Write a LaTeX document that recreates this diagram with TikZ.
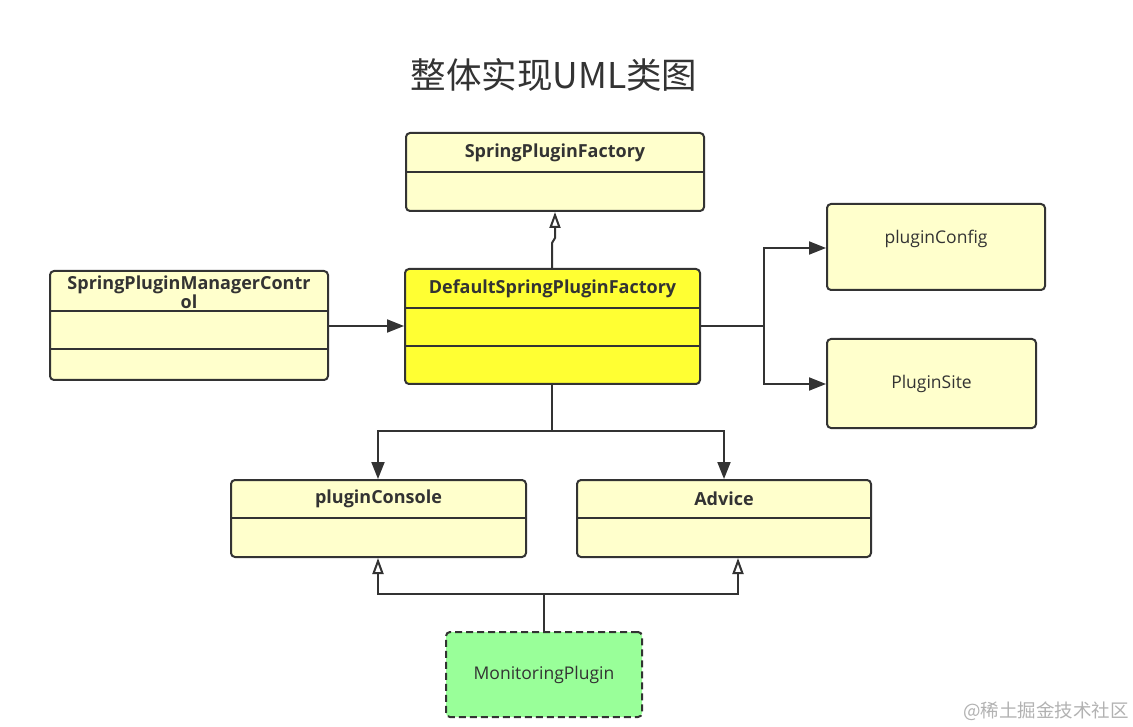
\documentclass[tikz,border=0pt]{standalone}
\usepackage{fontspec}
\setmainfont{Open Sans}
\newfontfamily\cjk{Noto Sans CJK SC}
\usetikzlibrary{arrows.meta,calc}
\definecolor{lightyel}{HTML}{FFFFCC}
\definecolor{stryel}{HTML}{FFFF33}
\definecolor{lgreen}{HTML}{99FF99}
\definecolor{edge}{HTML}{333333}
\definecolor{txt}{HTML}{333333}
\tikzset{
  boxbase/.style={draw=edge, line width=2pt, rounded corners=4pt, inner sep=0pt},
  clsbox/.style={boxbase, fill=lightyel},
  mainbox/.style={boxbase, fill=stryel},
  plainbox/.style={boxbase, fill=lightyel},
  greenbox/.style={boxbase, fill=lgreen, dashed, dash pattern=on 7pt off 4pt},
  clsname/.style={font=\bfseries\fontsize{18}{19}\selectfont, text=txt, inner sep=0pt, align=center},
  plainname/.style={font=\fontsize{17.5}{20}\selectfont, text=txt, inner sep=0pt},
  divider/.style={draw=edge, line width=2pt},
  conn/.style={draw=edge, line width=2pt},
  assoc/.style={conn, -{Triangle[length=17pt,width=13pt]}},
  inherit/.style={conn, -{Triangle[fill=white,length=16pt,width=11pt,line width=2pt]}}
}
\begin{document}
\begin{tikzpicture}[x=1pt,y=-1pt]
\useasboundingbox[fill=white] (0,0) rectangle (1133,727);

% title
\node[font=\cjk\fontsize{35.5}{38}\selectfont, text=txt] (title) at (554,75) {整体实现UML类图};

% SpringPluginFactory
\node[clsbox, minimum width=298pt, minimum height=78pt] (spf) at (555,172) {};
\node[clsname] (spft) at (555,153) {SpringPluginFactory};
\draw[divider] (spf.west |- 0,172) -- (spf.east |- 0,172);

% DefaultSpringPluginFactory
\node[mainbox, minimum width=295pt, minimum height=115pt] (dspf) at (552.5,326.5) {};
\node[clsname] (dspft) at (552.5,289) {DefaultSpringPluginFactory};
\draw[divider] (dspf.west |- 0,308) -- (dspf.east |- 0,308);
\draw[divider] (dspf.west |- 0,346) -- (dspf.east |- 0,346);

% SpringPluginManagerControl
\node[clsbox, minimum width=278pt, minimum height=109pt] (spmc) at (189,325.5) {};
\node[clsname] (spmct) at (189,292) {SpringPluginManagerContr\\ol};
\draw[divider] (spmc.west |- 0,311) -- (spmc.east |- 0,311);
\draw[divider] (spmc.west |- 0,349) -- (spmc.east |- 0,349);

% pluginConfig, PluginSite
\node[plainbox, minimum width=218pt, minimum height=86pt] (pc) at (936,247) {};
\node[plainname] (pct) at (936,239) {pluginConfig};
\node[plainbox, minimum width=209pt, minimum height=89pt] (ps) at (931.5,383.5) {};
\node[plainname] (pst) at (931.5,384) {PluginSite};

% pluginConsole, Advice
\node[clsbox, minimum width=295pt, minimum height=77pt] (pcon) at (378.5,518.5) {};
\node[clsname] (pcont) at (378.5,499) {pluginConsole};
\draw[divider] (pcon.west |- 0,518) -- (pcon.east |- 0,518);
\node[clsbox, minimum width=294pt, minimum height=77pt] (adv) at (724,518.5) {};
\node[clsname] (advt) at (724,499) {Advice};
\draw[divider] (adv.west |- 0,518) -- (adv.east |- 0,518);

% MonitoringPlugin
\node[greenbox, minimum width=196pt, minimum height=85pt] (mp) at (544,674.5) {};
\node[plainname] (mpt) at (544,675) {MonitoringPlugin};

% watermark
\node[font=\cjk\fontsize{18.5}{20}\selectfont, text=black!30, anchor=east, inner sep=0pt] (wm) at (1129,711) {@稀土掘金技术社区};

% connectors
\coordinate (j1) at (552,243);
\coordinate (j2) at (555,238);
\draw[inherit] (dspf.north -| j1) -- (j1) -- (j2) -- (spf.south -| j2);

\draw[assoc] (spmc.east |- 0,326) -- (dspf.west |- 0,326);

\coordinate (rb) at (764,326);
\draw[conn] (dspf.east |- rb) -- (rb);
\draw[assoc] (rb) -- (rb |- 0,248) -- (pc.west |- 0,248);
\draw[assoc] (rb) -- (rb |- 0,384) -- (ps.west |- 0,384);

\coordinate (db) at (552,431);
\draw[conn] (dspf.south -| db) -- (db);
\draw[assoc] (db) -- (378,431) -- (pcon.north -| 378,0);
\draw[assoc] (db) -- (724,431) -- (adv.north -| 724,0);

\coordinate (mb) at (544,594);
\draw[conn] (mp.north) -- (mb);
\draw[inherit] (mb) -- (378,594) -- (pcon.south -| 378,0);
\draw[inherit] (mb) -- (738,594) -- (adv.south -| 738,0);
\end{tikzpicture}
\end{document}
